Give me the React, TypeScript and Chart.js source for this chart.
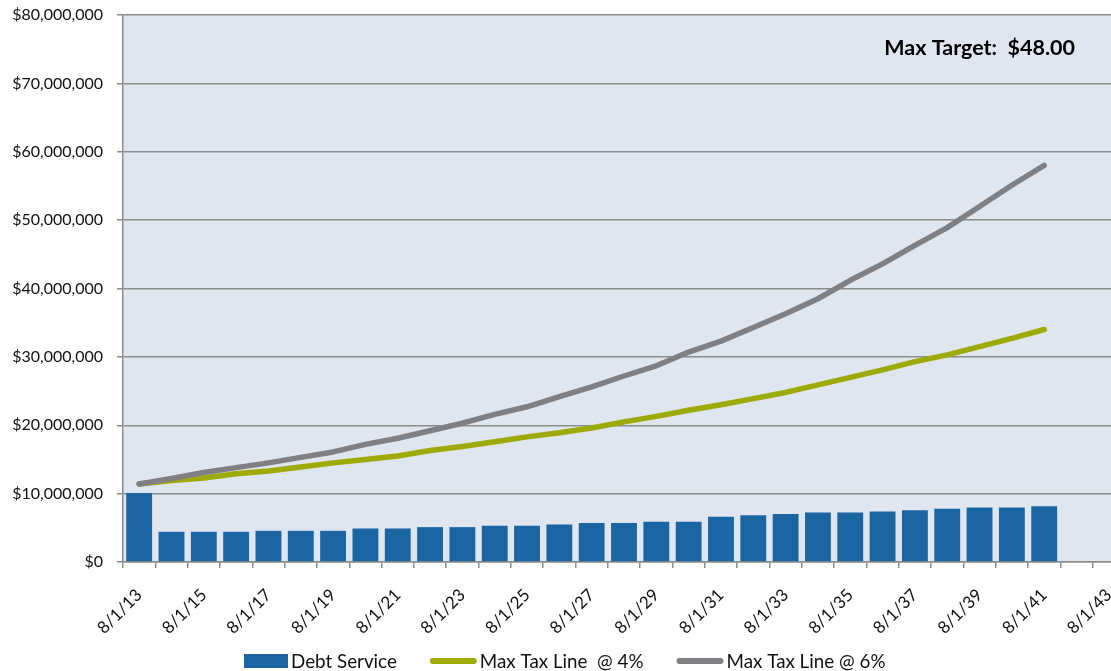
import React, { useEffect, useRef } from "react";
import { Chart, registerables } from "chart.js";

Chart.register(...registerables);

const categories = [
  "8/1/13", "8/1/14", "8/1/15", "8/1/16", "8/1/17", "8/1/18", "8/1/19", "8/1/20",
  "8/1/21", "8/1/22", "8/1/23", "8/1/24", "8/1/25", "8/1/26", "8/1/27", "8/1/28",
  "8/1/29", "8/1/30", "8/1/31", "8/1/32", "8/1/33", "8/1/34", "8/1/35", "8/1/36",
  "8/1/37", "8/1/38", "8/1/39", "8/1/40", "8/1/41", "8/1/42", "8/1/43",
];

const debtService = [
  10100000, 4420000, 4420000, 4420000, 4560000, 4560000, 4560000, 4900000,
  4900000, 5100000, 5100000, 5300000, 5300000, 5500000, 5690000, 5690000,
  5890000, 5890000, 6630000, 6830000, 7030000, 7230000, 7230000, 7380000,
  7570000, 7770000, 7970000, 7970000, 8170000,
];

const maxTax4 = [
  11400000, 11900000, 12300000, 12900000, 13300000, 13900000, 14500000, 15000000,
  15500000, 16300000, 16900000, 17600000, 18300000, 18900000, 19600000, 20500000,
  21300000, 22200000, 23000000, 23900000, 24800000, 25900000, 27000000, 28100000,
  29300000, 30300000, 31500000, 32700000, 34000000,
];

const maxTax6 = [
  11400000, 12200000, 13100000, 13800000, 14500000, 15300000, 16100000, 17200000,
  18100000, 19200000, 20300000, 21600000, 22700000, 24200000, 25600000, 27200000,
  28700000, 30700000, 32300000, 34300000, 36300000, 38500000, 41200000, 43600000,
  46300000, 48900000, 52000000, 55100000, 58000000,
];

const seriesNames = ["Debt Service", "Max Tax Line  @ 4%", "Max Tax Line @ 6%"];
const yMin = 0;
const yMax = 80000000;
const yStep = 10000000;
const annotationText = "Max Target:  $48.00";

const BAR_COLOR = "#1B65A2";
const GREEN = "#9EAA00";
const GRAY = "#7F7F84";
const GRID = "#8C8C8C";
const FONT = "Lato, 'Liberation Sans', sans-serif";

export default function App() {
  const ref = useRef<HTMLCanvasElement>(null);

  useEffect(() => {
    const bgPlugin = {
      id: "plotBg",
      beforeDraw(chart: any) {
        const { ctx, chartArea } = chart;
        ctx.save();
        ctx.fillStyle = "#DFE6F0";
        ctx.fillRect(chartArea.left, chartArea.top, chartArea.right - chartArea.left, chartArea.bottom - chartArea.top);
        ctx.restore();
      },
    };
    const notePlugin = {
      id: "note",
      afterDatasetsDraw(chart: any) {
        const { ctx } = chart;
        ctx.save();
        ctx.font = `bold 21.5px ${FONT}`;
        ctx.fillStyle = "#000";
        ctx.textAlign = "right";
        ctx.textBaseline = "middle";
        ctx.fillText(annotationText, 1075, 48);
        ctx.restore();
      },
    };
    const legendPlugin = {
      id: "customLegend",
      afterDraw(chart: any) {
        const { ctx } = chart;
        const cy = 661;
        let x = 244;
        ctx.save();
        ctx.font = `18.8px ${FONT}`;
        ctx.textBaseline = "middle";
        ctx.textAlign = "left";
        chart.data.datasets.forEach((ds: any, i: number) => {
          if (i === 0) {
            ctx.fillStyle = ds.backgroundColor;
            ctx.fillRect(x, cy - 7, 44, 14);
            x += 44;
          } else {
            ctx.strokeStyle = ds.borderColor;
            ctx.lineWidth = 6;
            ctx.lineCap = "round";
            ctx.beginPath();
            ctx.moveTo(x + 3, cy);
            ctx.lineTo(x + 44, cy);
            ctx.stroke();
            x += 47;
          }
          x += 3;
          ctx.fillStyle = "#111";
          ctx.fillText(ds.label, x, cy + 1);
          x += ctx.measureText(ds.label).width + 33;
        });
        ctx.restore();
      },
    };

    const chart = new Chart(ref.current!, {
      type: "bar",
      data: {
        labels: categories,
        datasets: [
          {
            type: "bar",
            label: seriesNames[0],
            data: debtService,
            backgroundColor: BAR_COLOR,
            borderWidth: 0,
            categoryPercentage: 1,
            barPercentage: 0.8,
            order: 3,
          },
          {
            type: "line",
            label: seriesNames[1],
            data: maxTax4,
            borderColor: GREEN,
            backgroundColor: GREEN,
            borderWidth: 5.5,
            pointRadius: 0,
            borderCapStyle: "round",
            borderJoinStyle: "round",
            tension: 0,
            order: 2,
          },
          {
            type: "line",
            label: seriesNames[2],
            data: maxTax6,
            borderColor: GRAY,
            backgroundColor: GRAY,
            borderWidth: 5.5,
            pointRadius: 0,
            borderCapStyle: "round",
            borderJoinStyle: "round",
            tension: 0,
            order: 1,
          },
        ],
      },
      options: {
        animation: false,
        responsive: true,
        maintainAspectRatio: false,
        events: [],
        layout: { padding: { top: 15, left: 0, right: 0, bottom: 0 } },
        plugins: {
          title: { display: false },
          tooltip: { enabled: false },
          legend: { display: false },
        },
        scales: {
          x: {
            offset: true,
            grid: {
              offset: true,
              drawOnChartArea: false,
              drawTicks: true,
              tickLength: 6,
              color: GRID,
              lineWidth: 1.5,
            },
            border: { display: true, color: GRID, width: 1.5 },
            ticks: {
              autoSkip: false,
              maxRotation: 45,
              minRotation: 45,
              padding: 17,
              labelOffset: 0,
              color: "#111",
              font: { family: FONT, size: 17 },
              callback: (_v: any, i: number) => (i % 2 === 0 ? categories[i] : ""),
            },
            afterFit: (s: any) => {
              s.height = 109;
              s.paddingLeft = 0;
              s.paddingRight = 0;
            },
          },
          y: {
            min: yMin,
            max: yMax,
            ticks: {
              stepSize: yStep,
              color: "#111",
              padding: 14,
              font: { family: FONT, size: 16 },
              callback: (v: any) => "$" + Number(v).toLocaleString("en-US"),
            },
            grid: { color: GRID, lineWidth: 1.5, tickLength: 6, drawTicks: true },
            border: { display: true, color: GRID, width: 1.5 },
            afterFit: (s: any) => {
              s.width = 123;
              s.paddingTop = 0;
              s.paddingBottom = 0;
            },
          },
        },
      },
      plugins: [bgPlugin, notePlugin, legendPlugin],
    } as any);
    return () => chart.destroy();
  }, []);

  return (
    <div
      style={{
        position: "fixed",
        left: 0,
        top: 0,
        width: 1111,
        height: 671,
        overflow: "hidden",
        background: "#fff",
      }}
    >
      <div style={{ position: "relative", width: 1125, height: 671 }}>
        <canvas ref={ref} />
      </div>
    </div>
  );
}
